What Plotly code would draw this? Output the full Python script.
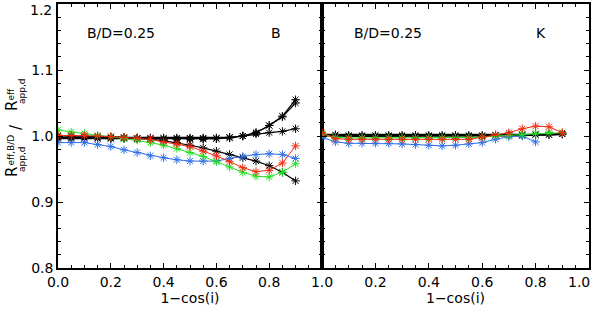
import plotly.graph_objects as go
from plotly.subplots import make_subplots

x = [0.0, 0.05, 0.1, 0.15, 0.2, 0.25, 0.3, 0.35, 0.4, 0.45, 0.5, 0.55, 0.6, 0.65, 0.7, 0.75, 0.8, 0.85, 0.9]

# B band
b_blue = [0.990, 0.990, 0.990, 0.987, 0.984, 0.979, 0.975, 0.970, 0.967, 0.964, 0.962, 0.962, 0.962, 0.966, 0.969, 0.972, 0.973, 0.972, 0.966]
b_green = [1.009, 1.006, 1.004, 1.001, 0.999, 0.996, 0.994, 0.990, 0.986, 0.981, 0.975, 0.969, 0.961, 0.953, 0.945, 0.939, 0.938, 0.945, 0.958]
b_red = [1.001, 1.001, 1.001, 1.000, 0.999, 0.998, 0.997, 0.995, 0.991, 0.988, 0.984, 0.977, 0.970, 0.961, 0.952, 0.946, 0.948, 0.959, 0.985]
b_black1 = [1.000, 1.000, 1.000, 0.999, 0.999, 0.998, 0.997, 0.995, 0.993, 0.990, 0.986, 0.982, 0.977, 0.972, 0.967, 0.962, 0.955, 0.945, 0.932]
b_black2 = [0.998, 0.998, 0.998, 0.997, 0.997, 0.997, 0.997, 0.997, 0.997, 0.997, 0.997, 0.997, 0.997, 0.998, 1.000, 1.005, 1.016, 1.030, 1.055]
b_black3 = [0.997, 0.997, 0.997, 0.997, 0.997, 0.997, 0.996, 0.996, 0.996, 0.996, 0.996, 0.996, 0.996, 0.998, 1.000, 1.005, 1.016, 1.029, 1.050]
b_black4 = [0.996, 0.996, 0.996, 0.996, 0.996, 0.996, 0.996, 0.995, 0.995, 0.995, 0.995, 0.995, 0.996, 0.997, 1.000, 1.003, 1.005, 1.007, 1.011]

# K band
k_blue = [0.998, 0.991, 0.989, 0.989, 0.989, 0.989, 0.988, 0.987, 0.986, 0.985, 0.986, 0.988, 0.990, 0.995, 0.999, 1.000, 0.991]
k_green = [1.003, 0.998, 0.997, 0.997, 0.997, 0.997, 0.997, 0.997, 0.997, 0.997, 0.997, 0.997, 0.998, 1.000, 1.001, 1.003, 1.004, 1.005, 1.005]
k_red = [1.005, 0.996, 0.995, 0.995, 0.995, 0.995, 0.995, 0.995, 0.995, 0.995, 0.995, 0.995, 0.998, 1.002, 1.005, 1.011, 1.015, 1.014, 1.005]
k_black1 = [1.002, 1.002, 1.001, 1.001, 1.001, 1.001, 1.001, 1.001, 1.001, 1.001, 1.001, 1.001, 1.001, 1.001, 1.002, 1.002, 1.002, 1.002, 1.003]
k_black2 = [1.001, 1.000, 1.000, 1.000, 1.000, 1.000, 1.000, 1.000, 1.000, 1.000, 1.000, 1.000, 1.000, 1.001, 1.001, 1.001, 1.002, 1.002, 1.003]

x_ticks_left = [0.0, 0.2, 0.4, 0.6, 0.8, 1.0]
x_labels_left = ["0.0", "0.2", "0.4", "0.6", "0.8", "1.0"]
x_ticks_right = [0.2, 0.4, 0.6, 0.8, 1.0]
x_labels_right = ["0.2", "0.4", "0.6", "0.8", ""]
x_last_label = "1.0"
y_ticks = [0.8, 0.9, 1.0, 1.1, 1.2]
y_labels = ["0.8", "0.9", "1.0", "1.1", ""]
y_top_label = "1.2"

BLUE = "#2f6fe8"
GREEN = "#22e022"
RED = "#f02a10"
BLACK = "#000000"

W, H = 600, 313
ML, MR, MT, MB = 58, 11, 4, 45
PW = W - ML - MR
PH = H - MT - MB
split = (322 - ML) / PW

fig = make_subplots(rows=1, cols=2, horizontal_spacing=0, shared_yaxes=False)

def add(series, col, color, lw=1.0):
    fig.add_trace(go.Scatter(
        x=x[:len(series)], y=series, mode="lines+markers",
        line=dict(color=color, width=lw),
        marker=dict(symbol="asterisk-open", size=7, color=color, line=dict(color=color, width=1)),
        showlegend=False, hoverinfo="skip"), row=1, col=col)

for s in [b_black2, b_black3, b_black4, b_black1]:
    add(s, 1, BLACK, 1.2)
add(b_blue, 1, BLUE)
add(b_green, 1, GREEN)
add(b_red, 1, RED)

for s in [k_black2, k_black1]:
    add(s, 2, BLACK, 2.0)
add(k_blue, 2, BLUE)
add(k_green, 2, GREEN)
add(k_red, 2, RED)

FAM = "DejaVu Sans, sans-serif"
FONT = dict(family=FAM, size=14, color="#000")

axis_common = dict(range=[0, 1], showline=True, linecolor="#000", linewidth=1.5, mirror="ticks",
                   ticks="inside", ticklen=5, tickwidth=1, tickcolor="#000", automargin=False,
                   ticklabeloverflow="allow",
                   minor=dict(dtick=0.05, ticks="inside", ticklen=3, tickwidth=1, tickcolor="#000"),
                   showgrid=False, zeroline=False, tickfont=FONT,
                   title=dict(text="1\u2212cos(i)", font=FONT, standoff=4))
fig.update_xaxes(**axis_common, tickvals=x_ticks_left, ticktext=x_labels_left, domain=[0, split], row=1, col=1)
fig.update_xaxes(**axis_common, tickvals=x_ticks_right, ticktext=x_labels_right, domain=[split, 1], row=1, col=2)

yaxis_common = dict(range=[0.8, 1.2], showline=True, linecolor="#000", linewidth=1.5, mirror="ticks",
                    ticks="inside", ticklen=5, tickwidth=1, tickcolor="#000", tickvals=y_ticks,
                    automargin=False, ticklabeloverflow="allow",
                    minor=dict(dtick=0.02, ticks="inside", ticklen=3, tickwidth=1, tickcolor="#000"),
                    showgrid=False, zeroline=False, tickfont=FONT)
fig.update_yaxes(**yaxis_common, ticktext=y_labels, row=1, col=1)
fig.update_yaxes(**yaxis_common, showticklabels=False, row=1, col=2)

def px2paper(px, py):
    return (px - ML) / PW, (H - MB - py) / PH

anns = []
def ann(text, px, py, size=14, angle=0, xanchor="center"):
    ax, ay = px2paper(px, py)
    anns.append(dict(text=text, x=ax, y=ay, xref="paper", yref="paper", showarrow=False,
                     textangle=angle, xanchor=xanchor, yanchor="middle",
                     font=dict(family=FAM, size=size, color="#000")))

ann(y_top_label, 54, 10, 14, 0, "right")
ann(x_last_label, 592, 282, 14, 0, "right")
ann("B/D=0.25", 121, 33, 14)
ann("B", 276, 33, 14)
ann("B/D=0.25", 388, 33, 14)
ann("K", 541, 33, 14)

# y-axis title pieces (rotated)
ann("R", 12, 172, 15, -90)
ann("eff,B/D", 10.5, 150, 9, -90)
ann("app,d", 22, 159, 9, -90)
ann("/", 16, 127, 15, -90)
ann("R", 12, 106, 15, -90)
ann("eff", 10.5, 94, 9, -90)
ann("app,d", 22, 91, 9, -90)

fig.update_layout(width=W, height=H, margin=dict(l=ML, r=MR, t=MT, b=MB),
                  paper_bgcolor="white", plot_bgcolor="white", annotations=anns,
                  font=FONT)

fig.write_html("out.html", config={"displayModeBar": False},
               post_script="document.body.style.margin='0';document.body.style.overflow='hidden';")
